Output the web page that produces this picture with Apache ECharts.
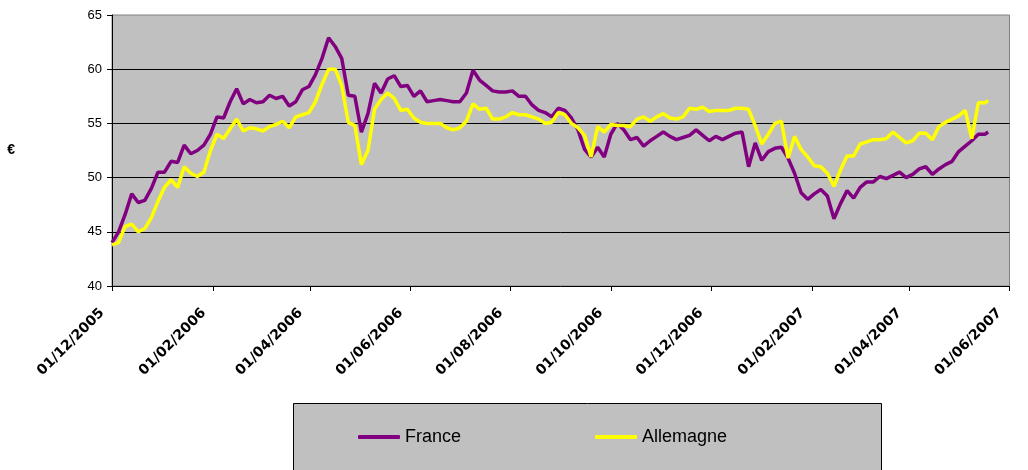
<!DOCTYPE html>
<html>
<head>
<meta charset="utf-8">
<script src="https://cdn.jsdelivr.net/npm/echarts@6/dist/echarts.min.js"></script>
<style>
  html, body { margin: 0; padding: 0; background: #ffffff; }
  #chart { width: 1028px; height: 470px; }
</style>
</head>
<body>
<div id="chart"></div>
<script>
// Observation dates (every four days)
const dates = [
  '2005-12-01','2005-12-05','2005-12-09','2005-12-13','2005-12-17','2005-12-21','2005-12-25','2005-12-29',
  '2006-01-02','2006-01-06','2006-01-10','2006-01-14','2006-01-18','2006-01-22','2006-01-26','2006-01-30',
  '2006-02-03','2006-02-07','2006-02-11','2006-02-15','2006-02-19','2006-02-23','2006-02-27',
  '2006-03-03','2006-03-07','2006-03-11','2006-03-15','2006-03-19','2006-03-23','2006-03-27','2006-03-31',
  '2006-04-04','2006-04-08','2006-04-12','2006-04-16','2006-04-20','2006-04-24','2006-04-28',
  '2006-05-02','2006-05-06','2006-05-10','2006-05-14','2006-05-18','2006-05-22','2006-05-26','2006-05-30',
  '2006-06-03','2006-06-07','2006-06-11','2006-06-15','2006-06-19','2006-06-23','2006-06-27',
  '2006-07-01','2006-07-05','2006-07-09','2006-07-13','2006-07-17','2006-07-21','2006-07-25','2006-07-29',
  '2006-08-02','2006-08-06','2006-08-10','2006-08-14','2006-08-18','2006-08-22','2006-08-26','2006-08-30',
  '2006-09-03','2006-09-07','2006-09-11','2006-09-15','2006-09-19','2006-09-23','2006-09-27',
  '2006-10-01','2006-10-05','2006-10-09','2006-10-13','2006-10-17','2006-10-21','2006-10-25','2006-10-29',
  '2006-11-02','2006-11-06','2006-11-10','2006-11-14','2006-11-18','2006-11-22','2006-11-26','2006-11-30',
  '2006-12-04','2006-12-08','2006-12-12','2006-12-16','2006-12-20','2006-12-24','2006-12-28',
  '2007-01-01','2007-01-05','2007-01-09','2007-01-13','2007-01-17','2007-01-21','2007-01-25','2007-01-29',
  '2007-02-02','2007-02-06','2007-02-10','2007-02-14','2007-02-18','2007-02-22','2007-02-26',
  '2007-03-02','2007-03-06','2007-03-10','2007-03-14','2007-03-18','2007-03-22','2007-03-26','2007-03-30',
  '2007-04-03','2007-04-07','2007-04-11','2007-04-15','2007-04-19','2007-04-23','2007-04-27',
  '2007-05-01','2007-05-05','2007-05-09','2007-05-13','2007-05-17','2007-05-19'
];

// Price in euros, France
const france = [
  44.0, 45.0, 46.6, 48.5, 47.7, 47.9, 49.0, 50.5,
  50.5, 51.5, 51.4, 53.0, 52.2, 52.5, 53.0, 54.0,
  55.6, 55.5, 57.0, 58.2, 56.8, 57.2, 56.9,
  57.0, 57.6, 57.3, 57.5, 56.6, 57.0, 58.1, 58.4,
  59.5, 61.0, 62.9, 62.1, 61.0, 57.6, 57.5,
  54.2, 55.9, 58.7, 57.8, 59.1, 59.4, 58.4, 58.5,
  57.5, 58.0, 57.0, 57.1, 57.2, 57.1, 57.0,
  57.0, 57.8, 59.9, 59.0, 58.5, 58.0, 57.9, 57.9,
  58.0, 57.5, 57.5, 56.7, 56.2, 56.0, 55.6, 56.4,
  56.2, 55.5, 54.4, 52.6, 51.9, 52.8, 51.9,
  54.0, 55.0, 54.4, 53.5, 53.7, 52.9, 53.4, 53.8,
  54.2, 53.8, 53.5, 53.7, 53.9, 54.4, 53.9, 53.4,
  53.8, 53.5, 53.8, 54.1, 54.2, 51.0, 53.2,
  51.6, 52.4, 52.7, 52.8, 51.8, 50.4, 48.6, 48.0,
  48.5, 48.9, 48.3, 46.2, 47.6, 48.8, 48.1,
  49.1, 49.6, 49.6, 50.1, 49.9, 50.2, 50.5, 50.0,
  50.3, 50.8, 51.0, 50.3, 50.8, 51.2, 51.5,
  52.4, 52.9, 53.4, 54.0, 54.0, 54.2
];

// Price in euros, Allemagne
const allemagne = [
  43.8, 44.0, 45.5, 45.7, 45.0, 45.3, 46.3, 47.8,
  49.1, 49.8, 49.1, 51.0, 50.4, 50.1, 50.5, 52.5,
  54.0, 53.6, 54.5, 55.4, 54.3, 54.6, 54.5,
  54.3, 54.7, 54.9, 55.2, 54.6, 55.6, 55.8, 56.0,
  57.0, 58.6, 60.0, 60.0, 58.5, 55.1, 54.8,
  51.2, 52.5, 56.3, 57.2, 57.8, 57.3, 56.2, 56.3,
  55.5, 55.1, 55.0, 55.0, 55.0, 54.6, 54.4,
  54.6, 55.2, 56.8, 56.3, 56.4, 55.4, 55.4, 55.6,
  56.0, 55.8, 55.8, 55.6, 55.4, 55.0, 55.1, 56.0,
  55.8, 55.0, 54.6, 53.9, 51.9, 54.7, 54.2,
  54.9, 54.8, 54.8, 54.7, 55.4, 55.6, 55.2, 55.6,
  55.9, 55.5, 55.4, 55.6, 56.4, 56.3, 56.5, 56.1,
  56.2, 56.2, 56.2, 56.4, 56.4, 56.3, 54.8,
  53.1, 54.0, 55.0, 55.2, 51.8, 53.8, 52.6, 51.9,
  51.1, 51.0, 50.4, 49.2, 50.7, 52.0, 52.0,
  53.1, 53.3, 53.5, 53.5, 53.6, 54.2, 53.7, 53.2,
  53.4, 54.1, 54.1, 53.5, 54.7, 55.1, 55.4,
  55.7, 56.2, 53.6, 56.9, 56.9, 57.1
];

// Axis tick dates (every two months)
const tickDates = [
  '2005-12-01','2006-02-01','2006-04-01','2006-06-01','2006-08-01',
  '2006-10-01','2006-12-01','2007-02-01','2007-04-01','2007-06-01'
];

function toTime(s) {
  const p = s.split('-').map(Number);
  return new Date(p[0], p[1] - 1, p[2]).getTime();
}
function pad2(n) { return (n < 10 ? '0' : '') + n; }

const tickTimes = tickDates.map(toTime);
const francePairs = dates.map((d, i) => [toTime(d), france[i]]);
const allemagnePairs = dates.map((d, i) => [toTime(d), allemagne[i]]);

const chart = echarts.init(document.getElementById('chart'));
chart.setOption({
  animation: false,
  backgroundColor: '#ffffff',
  textStyle: { fontFamily: 'Liberation Sans, Arial, sans-serif' },
  grid: {
    left: 112, right: 18.5, top: 15, bottom: 184,
    show: true,
    backgroundColor: '#c0c0c0',
    borderColor: '#808080',
    borderWidth: 1
  },
  graphic: [{
    type: 'rect',
    shape: { x: 293.5, y: 403.5, width: 588, height: 80 },
    style: { fill: '#c0c0c0', stroke: '#000000', lineWidth: 1 },
    z: 0
  }],
  legend: {
    left: 358,
    top: 428,
    padding: 0,
    itemWidth: 42,
    itemHeight: 4,
    itemGap: 134,
    textStyle: { color: '#000000', fontSize: 18, fontFamily: 'Liberation Sans, Arial, sans-serif' },
    data: [
      { name: 'France', icon: 'roundRect' },
      { name: 'Allemagne', icon: 'roundRect' }
    ]
  },
  xAxis: {
    type: 'value',
    min: tickTimes[0],
    max: tickTimes[tickTimes.length - 1],
    axisLine: { show: true, onZero: false, lineStyle: { color: '#000000', width: 1 } },
    axisTick: { show: true, length: 5, lineStyle: { color: '#000000' }, customValues: tickTimes },
    splitLine: { show: false },
    axisLabel: {
      customValues: tickTimes,
      rotate: 45,
      margin: 15,
      padding: [0, 14, 0, 0],
      color: '#000000',
      fontSize: 14,
      fontWeight: 'bold',
      fontFamily: 'DejaVu Sans, sans-serif',
      formatter: function (v) {
        const d = new Date(v);
        return pad2(d.getDate()) + '/' + pad2(d.getMonth() + 1) + '/' + d.getFullYear();
      }
    }
  },
  yAxis: {
    type: 'value',
    min: 40, max: 65, interval: 5,
    name: '€',
    nameLocation: 'middle',
    nameRotate: 0,
    nameGap: 97,
    nameTextStyle: { color: '#000000', fontSize: 14, fontWeight: 'bold' },
    axisLine: { show: true, lineStyle: { color: '#000000', width: 1 } },
    axisTick: { show: true, length: 5, lineStyle: { color: '#000000' } },
    axisLabel: { color: '#000000', fontSize: 13, margin: 10 },
    splitLine: { show: true, showMinLine: false, showMaxLine: false, lineStyle: { color: '#000000', width: 1 } }
  },
  series: [
    {
      name: 'France', type: 'line', data: francePairs,
      symbol: 'none', color: '#800080',
      lineStyle: { color: '#800080', width: 3.5 }
    },
    {
      name: 'Allemagne', type: 'line', data: allemagnePairs,
      symbol: 'none', color: '#ffff00',
      lineStyle: { color: '#ffff00', width: 3.5 }
    }
  ]
});
</script>
</body>
</html>
